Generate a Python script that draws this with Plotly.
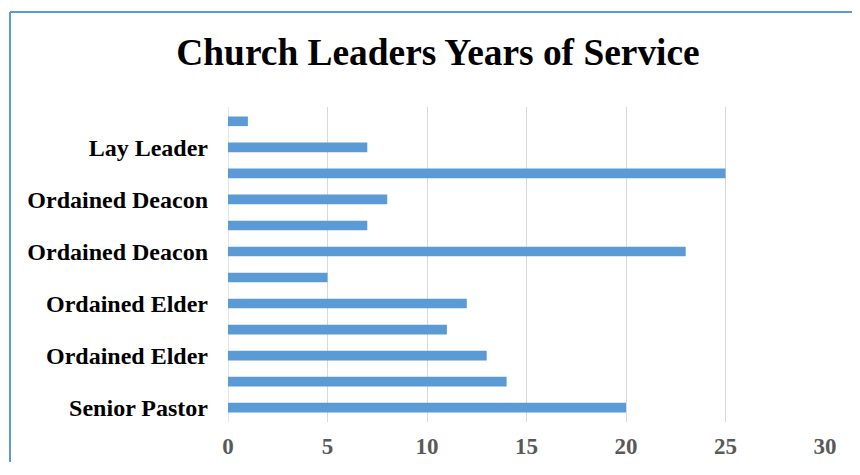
import plotly.graph_objects as go

# bars listed bottom to top
years = [20, 14, 13, 11, 12, 5, 23, 7, 8, 25, 7, 1]
positions = list(range(len(years)))
tick_positions = [0, 2, 4, 6, 8, 10]
tick_labels = ["Senior Pastor", "Ordained Elder", "Ordained Elder",
               "Ordained Deacon", "Ordained Deacon", "Lay Leader"]
x_ticks = [0, 5, 10, 15, 20, 25, 30]

fig = go.Figure(go.Bar(
    x=years, y=positions, orientation="h",
    marker=dict(color="#5b9bd5", line=dict(width=0)),
    width=0.37,
))

font_family = "Liberation Serif, Times New Roman, serif"

# page body has an 8px margin; keep figure small enough to avoid scrollbars
# plot area in screenshot: x 228..825, y 107..422
W, H = 844, 454
L, R, T, B = 220, 817, 99, 414
PW, PH = R - L, B - T

fig.update_layout(
    width=W, height=H,
    margin=dict(l=L, r=W - R, t=T, b=H - B),
    paper_bgcolor="white", plot_bgcolor="white",
    showlegend=False,
    title=dict(text="<b>Church Leaders Years of Service</b>",
               font=dict(family=font_family, size=37.4, color="black"),
               x=430 / W, xanchor="center", y=1 - 44 / H, yanchor="middle"),
    xaxis=dict(range=[0, 30], tickvals=x_ticks, showgrid=True, automargin=False,
               gridcolor="#d9d9d9", gridwidth=1.3, zeroline=False,
               showline=False, ticks="",
               tickfont=dict(family=font_family, size=23, color="#595959", weight="bold"),
               ticklabelstandoff=8),
    yaxis=dict(range=[-0.55, 11.55], tickvals=tick_positions, ticktext=tick_labels,
               showgrid=False, zeroline=False, showline=False, ticks="", automargin=False,
               tickfont=dict(family=font_family, size=24, color="black", weight="bold"),
               ticklabelstandoff=19),
    shapes=[
        dict(type="line", xref="paper", yref="paper",
             x0=(2 - L) / PW, x1=(W + 20 - L) / PW, y0=(B - 4) / PH, y1=(B - 4) / PH,
             line=dict(color="#5b9bd5", width=2)),
        dict(type="line", xref="paper", yref="paper",
             x0=(2 - L) / PW, x1=(2 - L) / PW, y0=-1, y1=(B - 4) / PH,
             line=dict(color="#5b9bd5", width=2)),
        dict(type="line", xref="x", yref="paper", x0=0, x1=0, y0=0, y1=1,
             line=dict(color="#d9d9d9", width=1.3), layer="below"),
    ],
)

fig.write_html("out.html")
